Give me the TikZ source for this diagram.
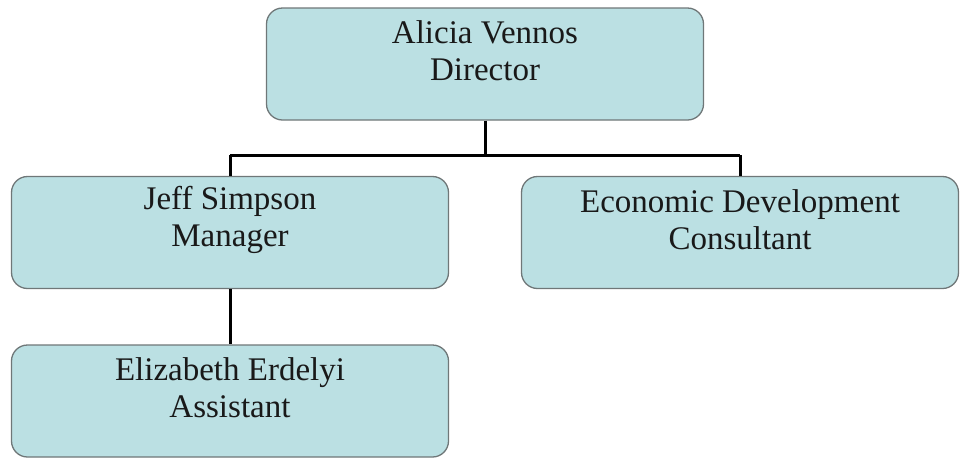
\documentclass[tikz,border=0pt]{standalone}
\usepackage{fontspec}
\setmainfont{Liberation Serif}
\definecolor{boxfill}{HTML}{BBE0E3}
\definecolor{boxedge}{HTML}{6F7778}
\begin{document}
\begin{tikzpicture}[x=1pt,y=-1pt,
  orgbox/.style={draw=boxedge,line width=1.3pt,fill=boxfill,rounded corners=16pt,
    minimum width=437pt,minimum height=112pt,inner sep=0pt},
  orglabel/.style={align=center,inner sep=0pt,text=black!90,
    font=\fontsize{33}{37}\selectfont},
  wire/.style={line width=3pt,black}]
\useasboundingbox (0,0) rectangle (960,459);

% junction points of the connector bus
\coordinate (bus) at (485,155);
\coordinate (busL) at (230,155);
\coordinate (busR) at (740,155);

% boxes
\node[orgbox] (dir) at (485,64) {};
\node[orgbox] (mgr) at (230,232.5) {};
\node[orgbox] (edc) at (740,232.5) {};
\node[orgbox] (ast) at (230,401) {};

% connectors
\draw[wire] (dir.south) -- (bus);
\draw[wire] (busL) -- (busR);
\draw[wire] (busL) -- (mgr.north);
\draw[wire] (busR) -- (edc.north);
\draw[wire] (mgr.south) -- (ast.north);

% labels, set a little above each box's centre
\node[orglabel] (dirT) at ([yshift=13]dir.center) {Alicia Vennos\\Director};
\node[orglabel] (mgrT) at ([yshift=13]mgr.center) {Jeff Simpson\\Manager};
\node[orglabel] (edcT) at ([yshift=13]edc.center) {Economic Development\\Consultant};
\node[orglabel] (astT) at ([yshift=13]ast.center) {Elizabeth Erdelyi\\Assistant};
\end{tikzpicture}
\end{document}
